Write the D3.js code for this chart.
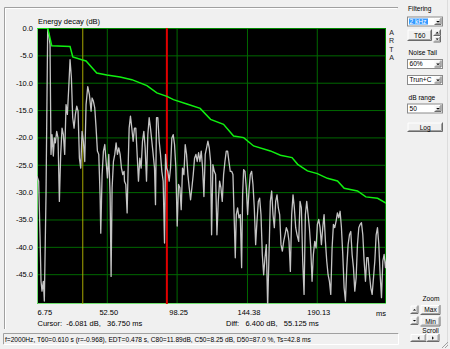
<!DOCTYPE html>
<html><head><meta charset="utf-8">
<script src="https://cdn.jsdelivr.net/npm/d3@7"></script>
<style>
body{margin:0;background:#f0f0f0;}
svg{display:block;font-family:"Liberation Sans",Arial,sans-serif;}
</style></head><body>
<svg id="c" width="450" height="349"></svg>
<script>
// ---- data ----
const xTicks = [6.75, 52.50, 98.25, 144.38, 190.13];
const xTickLabels = ["6.75", "52.50", "98.25", "144.38", "190.13"];
const yTicks = [0, -5, -10, -15, -20, -25, -30, -35, -40, -45];
const xDomain = [6.75, 235.5];
const yDomain = [0, -50.45];
const cursorMs = 36.75;
const secondCursorMs = 91.875;

// Schroeder integrated energy decay (green)
const schroederMs = [6.75,13.77,16.4,28.4,30.2,36.1,38.9,45.9,52.5,61.2,68.9,78.8,85.3,91.9,96.2,105.0,113.7,120.5,129.0,135.6,142.2,148.7,159.7,166.3,173.9,177.6,184.0,190.5,197.1,203.7,208.1,216.8,222.3,230.0,236.0];
const schroederDb = [0,0,-3.23,-3.36,-5.3,-5.79,-6.03,-8.22,-8.59,-8.95,-9.44,-10.54,-11.87,-12.5,-13.1,-13.88,-14.69,-16.7,-17.6,-19.73,-20.04,-21.56,-22.47,-23.27,-23.69,-24.92,-26.12,-26.62,-27.48,-27.95,-29.3,-29.78,-30.87,-31.13,-32.1];

// Energy-time curve (grey)
const etcMs = [6.75,7.84,8.72,9.38,10.03,10.91,11.56,12.66,13.75,14.4,15.28,15.94,16.60,17.47,18.13,18.78,19.66,20.53,21.41,22.28,23.16,24.03,24.91,25.79,26.66,27.54,28.41,29.29,30.16,31.04,31.91,32.79,33.66,34.54,35.41,36.29,37.16,38.04,38.91,40.01,41.10,42.20,42.85,43.73,44.60,45.48,46.35,47.23,48.10,48.54,49.42,50.29,51.17,52.04,52.92,53.79,54.67,55.32,55.98,56.85,57.73,58.60,59.48,60.35,61.23,62.10,62.98,63.85,
64.08,64.95,65.83,66.48,67.14,68.01,68.89,69.76,70.64,71.51,72.39,73.26,74.14,75.01,75.89,76.77,77.64,78.52,79.39,80.27,81.14,82.02,82.89,83.77,84.42,85.08,85.95,86.83,87.70,88.58,89.45,90.33,90.99,91.64,92.52,93.39,94.27,95.14,96.02,96.89,97.77,98.64,99.52,100.39,101.27,102.14,103.02,103.90,104.77,105.65,106.52,107.40,108.27,109.15,110.02,110.90,111.77,112.65,113.52,114.40,115.27,116.15,117.02,117.90,118.77,119.65,120.52,
121.18,122.05,122.93,123.80,124.68,125.55,126.43,127.30,128.18,129.05,129.93,130.80,131.68,132.55,133.43,134.30,135.18,136.05,136.71,137.37,138.24,139.12,139.99,140.87,141.52,142.18,143.05,143.93,144.80,145.68,146.55,147.43,148.31,149.18,150.06,150.93,151.81,152.68,153.56,154.43,155.31,156.18,157.06,157.93,158.81,159.68,160.56,161.43,162.31,163.18,164.06,164.93,165.81,166.68,167.56,168.43,169.31,170.18,171.06,171.93,172.81,173.68,174.56,175.44,176.31,177.19,
178.28,179.16,180.03,180.91,181.79,182.66,183.54,184.41,185.29,186.16,187.04,187.91,188.79,189.66,190.54,191.41,192.29,193.16,194.04,194.91,195.79,196.66,197.54,198.41,199.29,200.16,201.04,201.91,202.79,203.66,204.54,205.41,206.29,207.17,208.04,208.92,209.79,210.67,211.54,212.42,213.29,214.17,215.04,215.92,216.79,217.67,218.54,219.42,220.29,221.17,222.04,222.92,223.79,224.67,225.54,226.42,227.29,228.17,229.04,229.92,230.79,231.67,232.54,233.42,234.29,235.17,236.04];
const etcDb = [-27.1,-28.0,-37.8,-46.3,-48.1,-46.3,-49.9,-30.5,-0.3,-1.0,-3.0,-23.1,-19.5,-23.4,-20.1,-21.0,-18.9,-20.1,-31.7,-23.1,-18.3,-19.5,-23.1,-14.0,-15.8,-11.0,-5.8,-9.1,-16.4,-18.3,-15.8,-14.3,-15.2,-23.8,-25.6,-18.9,-20.7,-24.4,-14.0,-10.7,-12.2,-15.2,-12.8,-13.4,-14.6,-18.3,-22.5,-23.1,-30.5,-37.5,-26.8,-22.5,-21.3,-24.4,-27.4,-23.1,-30.5,-45.4,-29.2,-24.4,-23.1,-21.0,-23.1,-21.9,-23.1,-25.6,-26.8,-26.2,
-28.0,-28.6,-33.8,-25.6,-18.3,-16.1,-18.3,-20.7,-18.3,-18.3,-23.1,-28.0,-23.8,-25.6,-20.7,-18.9,-21.9,-28.0,-19.5,-16.4,-18.3,-20.7,-23.1,-25.6,-32.3,-16.4,-16.4,-20.7,-23.1,-26.2,-28.0,-39.3,-23.1,-25.6,-26.2,-28.0,-25.6,-20.1,-19.5,-21.3,-25.6,-36.2,-28.6,-29.2,-33.2,-25.6,-26.8,-21.3,-23.1,-26.8,-29.2,-31.4,-29.2,-26.8,-23.8,-23.1,-24.4,-22.8,-24.4,-22.5,-25.6,-30.8,-23.1,-21.9,-20.7,-21.9,-24.4,
-37.8,-25.0,-26.2,-26.8,-37.8,-31.7,-28.0,-29.2,-31.7,-26.8,-24.4,-22.5,-22.5,-24.4,-26.2,-26.2,-26.8,-35.3,-42.0,-34.1,-32.9,-34.7,-34.1,-43.8,-30.5,-25.9,-26.2,-29.2,-34.1,-29.8,-26.8,-26.2,-28.6,-32.9,-39.6,-35.3,-31.7,-31.1,-34.1,-41.4,-45.1,-42.0,-39.6,-51.0,-41.4,-31.7,-29.8,-34.1,-36.5,-31.7,-30.5,-32.9,-34.1,-39.6,-40.8,-39.0,-37.8,-36.5,-37.2,-39.0,-44.5,-34.1,-30.5,-32.9,-36.5,-37.8,
-39.0,-31.7,-32.9,-42.6,-48.7,-34.1,-31.7,-34.1,-36.5,-40.2,-46.3,-41.4,-39.0,-40.2,-35.9,-35.0,-36.5,-39.6,-36.5,-34.1,-39.0,-42.6,-45.1,-46.3,-48.7,-40.2,-35.9,-36.5,-35.3,-33.8,-34.7,-33.5,-36.5,-41.4,-47.5,-49.9,-43.8,-39.6,-37.8,-37.2,-41.4,-43.8,-48.1,-45.7,-39.6,-36.5,-35.9,-35.6,-37.8,-42.6,-46.3,-42.0,-42.0,-45.1,-47.5,-48.7,-45.7,-42.6,-37.8,-36.5,-39.6,-45.1,-49.3,-42.6,-41.4,-43.8,-42.0];

const statusText = "f=2000Hz, T60=0.610 s (r=-0.968), EDT=0.478 s, C80=11.89dB, C50=8.25 dB, D50=87.0 %, Ts=42.8 ms";
const cursorText = "Cursor:  -6.081 dB,   36.750 ms";
const diffText = "Diff:   6.400 dB,   55.125 ms";
const brandLetters = ["A", "R", "T", "A"];

// ---- drawing ----
const svg = d3.select("#c");
const P = {l: 37, t: 28, r: 386, b: 304};
const x = d3.scaleLinear().domain(xDomain).range([P.l, P.r]);
const y = d3.scaleLinear().domain(yDomain).range([P.t, P.b]);

svg.append("rect").attr("width", 450).attr("height", 349).attr("fill", "#f0f0f0");

// panel frame
svg.append("path").attr("d", "M4.5,329 V7.5 H398").attr("fill", "none").attr("stroke", "#a0a0a0");
svg.append("path").attr("d", "M5.5,329 V8.5 H397").attr("fill", "none").attr("stroke", "#ffffff");
svg.append("line").attr("x1", 447.5).attr("x2", 447.5).attr("y1", 0).attr("y2", 345).attr("stroke", "#dcdcdc");

// plot background
svg.append("rect").attr("x", P.l).attr("y", P.t).attr("width", P.r - P.l).attr("height", P.b - P.t).attr("fill", "#000");

// grid
const gxg = svg.append("g").attr("transform", `translate(0,${P.b})`)
  .call(d3.axisBottom(x).tickValues(xTicks).tickSize(-(P.b - P.t)).tickFormat(""));
gxg.select(".domain").remove();
gxg.selectAll("line").attr("stroke", "#006800").attr("stroke-width", 1);
const gyg = svg.append("g").attr("transform", `translate(${P.l},0)`)
  .call(d3.axisLeft(y).tickValues(yTicks).tickSize(-(P.r - P.l)).tickFormat(""));
gyg.select(".domain").remove();
gyg.selectAll("line").attr("stroke", "#006800").attr("stroke-width", 1);

// plot border
svg.append("path").attr("d", `M${P.l},${P.t + 0.5} H${P.r - 0.5} V${P.b}`).attr("fill", "none").attr("stroke", "#008a00");
svg.append("path").attr("d", `M${P.l + 0.5},${P.t} V${P.b - 0.5} H${P.r}`).attr("fill", "none").attr("stroke", "#70e070");

// axes labels
const ay = svg.append("g").attr("transform", `translate(${P.l},0)`)
  .call(d3.axisLeft(y).tickValues(yTicks).tickSize(0).tickPadding(4).tickFormat(d => d.toFixed(1)));
ay.select(".domain").remove();
ay.selectAll("text").attr("font-size", 7.5).attr("font-family", "Liberation Sans, Arial, sans-serif").attr("fill", "#000");

const ax = svg.append("g").attr("transform", `translate(0,${P.b})`)
  .call(d3.axisBottom(x).tickValues(xTicks).tickSize(0).tickPadding(6).tickFormat((d, i) => xTickLabels[i]));
ax.select(".domain").remove();
ax.selectAll("text").attr("font-size", 7.5).attr("font-family", "Liberation Sans, Arial, sans-serif").attr("fill", "#000")
  .attr("dx", 1.5)
  .attr("text-anchor", (d, i) => i === 0 ? "start" : "middle")
  .attr("x", (d, i) => i === 0 ? -1.5 : 0);

svg.append("text").attr("x", P.r).attr("y", 315.5).attr("text-anchor", "end").attr("font-size", 7.5).text("ms");
svg.append("text").attr("x", 38).attr("y", 24).attr("font-size", 7.5).text("Energy decay (dB)");

// ARTA (vertical)
brandLetters.forEach((c, i) => {
  svg.append("text").attr("x", 391.5).attr("y", 35 + i * 8.3).attr("text-anchor", "middle")
    .attr("font-size", 7).attr("fill", "#222").text(c);
});

// clip
svg.append("clipPath").attr("id", "pc").append("rect")
  .attr("x", P.l).attr("y", P.t).attr("width", P.r - P.l).attr("height", P.b - P.t);
const plot = svg.append("g").attr("clip-path", "url(#pc)");

// cursors
plot.append("line").attr("x1", x(cursorMs)).attr("x2", x(cursorMs)).attr("y1", P.t).attr("y2", P.b)
  .attr("stroke", "#a8a800").attr("stroke-width", 1);
plot.append("line").attr("x1", x(secondCursorMs)).attr("x2", x(secondCursorMs)).attr("y1", P.t).attr("y2", P.b)
  .attr("stroke", "#e00000").attr("stroke-width", 2);

// grey ETC
const etc = etcMs.map((m, i) => [m, etcDb[i]]);
plot.append("path").datum(etc)
  .attr("d", d3.line().x(d => x(d[0])).y(d => y(d[1])))
  .attr("fill", "none").attr("stroke", "#c4c4c4").attr("stroke-width", 1.3).attr("stroke-linejoin", "round");

// green Schroeder
const sch = schroederMs.map((m, i) => [m, schroederDb[i]]);
plot.append("path").datum(sch)
  .attr("d", d3.line().x(d => x(d[0])).y(d => y(d[1])))
  .attr("fill", "none").attr("stroke", "#10f010").attr("stroke-width", 1.5);

// cursor texts
svg.append("text").attr("x", 37.5).attr("y", 326).attr("font-size", 7.5).style("white-space", "pre").text(cursorText);
svg.append("text").attr("x", 226).attr("y", 326).attr("font-size", 7.5).style("white-space", "pre").text(diffText);

// status bar
svg.append("path").attr("d", "M3.5,344.5 V333.5 H398.5").attr("fill", "none").attr("stroke", "#a0a0a0");
svg.append("path").attr("d", "M3.5,344.5 H398.5 V333.5").attr("fill", "none").attr("stroke", "#ffffff");
svg.append("text").attr("x", 5).attr("y", 342).attr("font-size", 6.6).text(statusText);

// ---- right-side controls ----
function raised(x0, y0, w, h) {
  const g = svg.append("g");
  g.append("rect").attr("x", x0).attr("y", y0).attr("width", w).attr("height", h).attr("fill", "#f0f0f0");
  g.append("path").attr("d", `M${x0 + 0.5},${y0 + h} V${y0 + 0.5} H${x0 + w}`).attr("fill", "none").attr("stroke", "#ffffff");
  g.append("path").attr("d", `M${x0},${y0 + h - 0.5} H${x0 + w - 0.5} V${y0}`).attr("fill", "none").attr("stroke", "#6a6a6a");
  g.append("path").attr("d", `M${x0 + 1},${y0 + h - 1.5} H${x0 + w - 1.5} V${y0 + 1}`).attr("fill", "none").attr("stroke", "#a0a0a0");
  return g;
}
function tri(cx, cy, dir, s) {
  s = s || 2;
  let d;
  if (dir === "down") d = `M${cx - s},${cy - s / 2} L${cx + s},${cy - s / 2} L${cx},${cy + s / 2}Z`;
  if (dir === "up") d = `M${cx - s},${cy + s / 2} L${cx + s},${cy + s / 2} L${cx},${cy - s / 2}Z`;
  if (dir === "left") d = `M${cx + s / 2},${cy - s} L${cx + s / 2},${cy + s} L${cx - s / 2},${cy}Z`;
  if (dir === "right") d = `M${cx - s / 2},${cy - s} L${cx - s / 2},${cy + s} L${cx + s / 2},${cy}Z`;
  svg.append("path").attr("d", d).attr("fill", "#000");
}
function combo(x0, y0, w, h, txt, sel) {
  svg.append("rect").attr("x", x0 + 0.5).attr("y", y0 + 0.5).attr("width", w - 1).attr("height", h - 1)
    .attr("fill", "#fff").attr("stroke", "#8a8a8a");
  if (sel) {
    svg.append("rect").attr("x", x0 + 2).attr("y", y0 + 2).attr("width", 19).attr("height", h - 4).attr("fill", "#3399ff");
  }
  svg.append("text").attr("x", x0 + 2.5).attr("y", y0 + h - 2.8).attr("font-size", 6.6)
    .attr("fill", sel ? "#fff" : "#000").text(txt);
  raised(x0 + w - 8.5, y0 + 1.5, 7, h - 3);
  tri(x0 + w - 5, y0 + h / 2 + 0.3, "down", 1.8);
}
function label(cx, yb, txt, anchor) {
  svg.append("text").attr("x", cx).attr("y", yb).attr("font-size", 6.6).attr("text-anchor", anchor || "start").text(txt);
}

label(408, 11, "Filtering");
combo(407, 16.5, 36, 10, "2 kHz", true);
raised(407.5, 29.5, 24.5, 11.5);
label(419.7, 37.8, "T60", "middle");
raised(433.5, 29.5, 7.5, 6.5); tri(437.2, 32.6, "up", 1.6);
raised(433.5, 36, 7.5, 6.5); tri(437.2, 39.3, "down", 1.6);
label(408.5, 54.5, "Noise Tail");
combo(407, 59, 36, 10, "60%");
combo(407, 75, 36, 10, "Trun+C");
label(408.5, 100, "dB range");
combo(407, 103.5, 36, 10, "50");
raised(407.5, 122.5, 35.5, 9.5);
label(425.2, 129.5, "Log", "middle");

label(431, 301, "Zoom", "middle");
raised(410.5, 305.5, 8, 8.5); tri(414.5, 309.7, "up", 1.6);
raised(420.5, 305, 20, 10); label(430.5, 312.3, "Max", "middle");
raised(410.5, 316.5, 8, 8.5); tri(414.5, 320.7, "down", 1.6);
raised(420.5, 316.5, 20, 10); label(430.5, 323.8, "Min", "middle");
label(430.5, 332.5, "Scroll", "middle");
raised(410.5, 334, 16, 8); tri(418.5, 338, "left", 1.7);
raised(426.5, 334, 13, 8); tri(433, 338, "right", 1.7);

// resize grip
[0, 3, 6].forEach(o => {
  svg.append("line").attr("x1", 448 - o).attr("y1", 348).attr("x2", 448).attr("y2", 348 - o)
    .attr("stroke", "#a0a0a0");
});
</script></body></html>
